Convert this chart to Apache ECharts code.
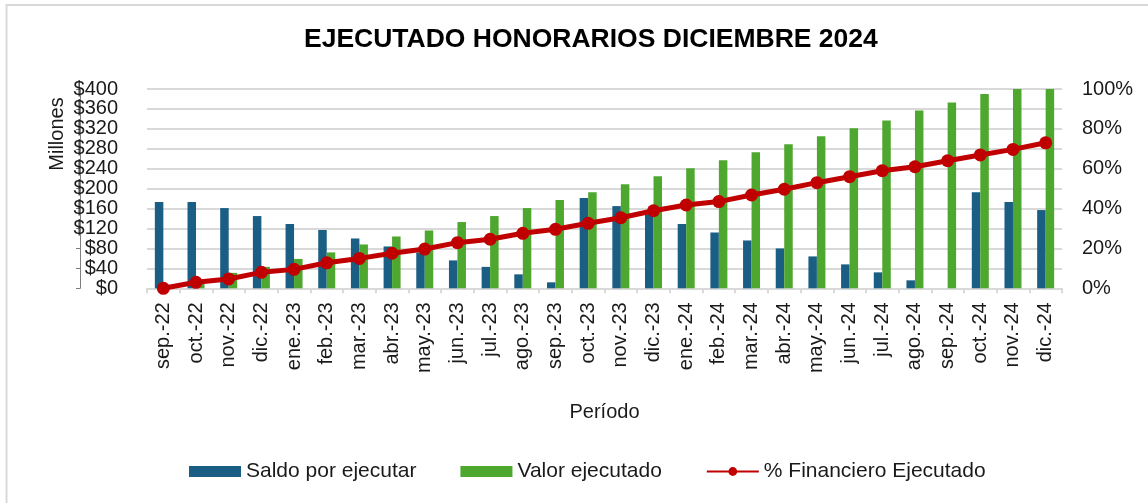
<!DOCTYPE html>
<html>
<head>
<meta charset="utf-8">
<script src="https://cdn.jsdelivr.net/npm/echarts@6/dist/echarts.min.js"></script>
<style>
html,body{margin:0;padding:0;background:#fff;}
#chart{width:1148px;height:503px;}
</style>
</head>
<body>
<div id="chart"></div>
<script>
const categories = ['sep.-22','oct.-22','nov.-22','dic.-22','ene.-23','feb.-23','mar.-23','abr.-23','may.-23','jun.-23','jul.-23','ago.-23','sep.-23','oct.-23','nov.-23','dic.-23','ene.-24','feb.-24','mar.-24','abr.-24','may.-24','jun.-24','jul.-24','ago.-24','sep.-24','oct.-24','nov.-24','dic.-24'];
const saldoPorEjecutar = [173,173,161,145,129,117,100,84,72,56,43,28,12,181,165,149,129,112,96,80,64,48,32,16,0,193,173,157];
const valorEjecutado = [2,10,31,43,59,72,88,104,116,133,145,161,177,193,209,225,241,257,273,289,305,321,337,357,373,390,405,421];
const pctFinanciero = [0,3,4.7,8,9.5,12.8,15,17.6,19.7,22.9,24.6,27.6,29.6,32.6,35.4,38.9,41.8,43.5,46.8,49.7,53,56,59,61,64,66.9,69.7,73];
const leftTicks = {min:0, max:400, interval:40};
const rightTicks = {min:0, max:100, interval:20};

const FONT = 'Liberation Sans';
const TXT = '#1a1a1a';
const chart = echarts.init(document.getElementById('chart'), null, {renderer:'canvas'});
chart.setOption({
  animation:false,
  backgroundColor:'#fff',
  textStyle:{fontFamily:FONT},
  title:{
    text:'EJECUTADO HONORARIOS DICIEMBRE 2024',
    left:299, top:21,
    textStyle:{fontFamily:FONT, fontWeight:'bold', fontSize:26.5, color:'#000'}
  },
  graphic:[
    {type:'rect', shape:{x:6.5, y:5, width:1300, height:700}, style:{fill:null, stroke:'#d9d9d9', lineWidth:2}, silent:true, z:-1},
    {type:'text', x:57, y:134, rotation:Math.PI/2,
     style:{text:'Millones', font:'20px "Liberation Sans"', fill:TXT, align:'center', verticalAlign:'middle'}}
  ],
  legend:{
    left:184, top:456,
    itemWidth:52, itemHeight:11, itemGap:44,
    textStyle:{fontFamily:FONT, fontSize:21, color:TXT},
    data:[
      {name:'Saldo por ejecutar', icon:'rect'},
      {name:'Valor ejecutado', icon:'rect'},
      {name:'% Financiero Ejecutado'}
    ]
  },
  grid:{left:147, right:86, top:89, bottom:214.7, containLabel:false},
  xAxis:{
    type:'category', data:categories, boundaryGap:true,
    name:'Período', nameLocation:'middle', nameGap:114,
    nameTextStyle:{fontFamily:FONT, fontSize:20, color:TXT},
    axisLine:{show:true, lineStyle:{color:'#d9d9d9', width:2}},
    axisTick:{show:true, alignWithLabel:false, length:5, lineStyle:{color:'#d9d9d9', width:2}},
    axisLabel:{rotate:90, interval:0, margin:14, fontFamily:FONT, fontSize:20, color:TXT}
  },
  yAxis:[
    {
      type:'value', position:'left', min:leftTicks.min, max:leftTicks.max, interval:leftTicks.interval,
      axisLine:{show:false}, axisTick:{show:false},
      splitLine:{show:true, lineStyle:{color:'#d9d9d9', width:2}},
      axisLabel:{margin:29, fontFamily:FONT, fontSize:20, color:TXT, formatter:v=>'$'+v}
    },
    {
      type:'value', position:'right', min:rightTicks.min, max:rightTicks.max, interval:rightTicks.interval,
      axisLine:{show:false}, axisTick:{show:false}, splitLine:{show:false},
      axisLabel:{margin:20, fontFamily:FONT, fontSize:20, color:TXT, formatter:v=>v+'%'}
    },
    {
      type:'value', position:'left', offset:67, min:leftTicks.min, max:leftTicks.max, interval:leftTicks.interval,
      axisLine:{show:true, lineStyle:{color:'#7f7f7f', width:1}},
      axisTick:{show:true, length:4, lineStyle:{color:'#7f7f7f'}},
      axisLabel:{show:false}, splitLine:{show:false}
    }
  ],
  series:[
    {name:'Saldo por ejecutar', type:'bar', yAxisIndex:0, data:saldoPorEjecutar, barWidth:8.5, barGap:'0%',
     itemStyle:{color:'#1b5e83'}},
    {name:'Valor ejecutado', type:'bar', yAxisIndex:0, data:valorEjecutado, barWidth:8.5, barGap:'0%',
     itemStyle:{color:'#4ea72e'}},
    {name:'% Financiero Ejecutado', type:'line', yAxisIndex:1, data:pctFinanciero,
     symbol:'circle', symbolSize:13, lineStyle:{color:'#c00000', width:5},
     itemStyle:{color:'#c00000'}, z:5}
  ]
});
</script>
</body>
</html>
